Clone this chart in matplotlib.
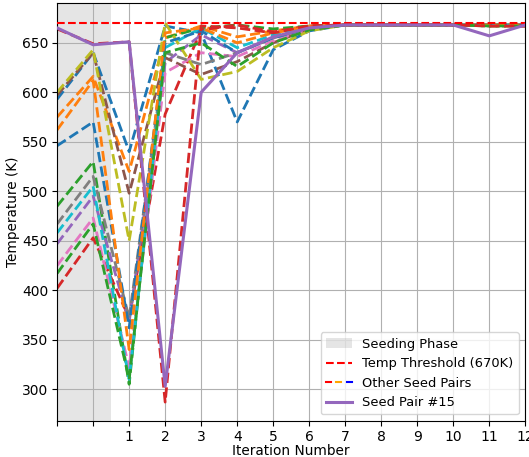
import matplotlib
matplotlib.use("Agg")
import matplotlib.pyplot as plt
from matplotlib.lines import Line2D
from matplotlib.patches import Patch
from matplotlib.legend_handler import HandlerBase

iterations = list(range(-1, 13))
tick_labels = ["", ""] + [str(i) for i in range(1, 13)]
threshold = 670

# 15 seed pairs, values per iteration (-1 .. 12)
seed_pairs = [
    [593, 640, 540, 667, 660, 570, 643, 662, 668, 668, 668, 668, 668, 668],  # 1
    [575, 616, 520, 655, 667, 656, 662, 667, 668, 668, 668, 668, 668, 668],  # 2
    [485, 530, 305, 655, 665, 668, 664, 667, 668, 668, 668, 668, 667, 667],  # 3
    [402, 453, 372, 578, 663, 668, 661, 667, 668, 668, 668, 668, 667, 667],  # 4
    [447, 495, 368, 630, 658, 640, 655, 665, 668, 668, 668, 668, 668, 668],  # 5
    [597, 640, 498, 635, 618, 631, 650, 664, 668, 668, 668, 668, 668, 668],  # 6
    [425, 473, 322, 620, 640, 636, 652, 664, 668, 668, 668, 668, 668, 668],  # 7
    [467, 515, 372, 640, 628, 640, 655, 665, 668, 668, 668, 668, 668, 668],  # 8
    [600, 643, 450, 670, 613, 621, 645, 662, 668, 668, 668, 668, 668, 668],  # 9
    [458, 505, 310, 645, 665, 645, 658, 666, 668, 668, 668, 668, 668, 668],  # 10
    [546, 570, 362, 650, 662, 640, 655, 665, 668, 668, 668, 668, 668, 668],  # 11
    [562, 612, 340, 660, 665, 650, 660, 666, 668, 668, 668, 668, 668, 668],  # 12
    [417, 467, 310, 640, 650, 626, 650, 663, 668, 668, 668, 668, 667, 667],  # 13
    [664, 649, 651, 287, 667, 665, 660, 667, 668, 668, 668, 668, 667, 667],  # 14
    [665, 648, 651, 303, 600, 640, 656, 665, 668, 668, 668, 668, 657, 668],  # 15
]
highlight_index = 14
colors = plt.rcParams["axes.prop_cycle"].by_key()["color"]


class MultiColorHandler(HandlerBase):
    def __init__(self, cols, **kw):
        super().__init__(**kw)
        self.cols = cols

    def create_artists(self, legend, orig_handle, xdescent, ydescent,
                       width, height, fontsize, trans):
        n = len(self.cols)
        seg = width / (2 * n - 1)
        arts = []
        for i, c in enumerate(self.cols):
            x0 = -xdescent + 2 * i * seg
            ln = Line2D([x0, x0 + seg], [height / 2 - ydescent] * 2,
                        color=c, lw=1.5, transform=trans)
            arts.append(ln)
        return arts


fig = plt.figure(figsize=(5.29, 4.57), dpi=100)
ax = fig.add_axes([0.108, 0.079, 0.885, 0.914])

ax.axvspan(-1, 0.5, color="gray", alpha=0.2, lw=0, zorder=0)
ax.axhline(threshold, color="red", ls="--", lw=1.5, zorder=3)

for i, vals in enumerate(seed_pairs):
    c = colors[i % len(colors)]
    if i == highlight_index:
        ax.plot(iterations, vals, color=c, lw=2.2, ls="-", zorder=4)
    else:
        ax.plot(iterations, vals, color=c, lw=2, ls="--", zorder=2)

ax.set_xlim(-1, 12)
ax.set_ylim(268, 690)
ax.set_xticks(iterations)
ax.set_xticklabels(tick_labels)
ax.set_yticks(range(300, 651, 50))
ax.tick_params(labelsize=10, pad=3)
ax.grid(True, color="#b0b0b0", lw=0.8, zorder=1)
ax.set_axisbelow(True)
ax.set_xlabel("Iteration Number", fontsize=9.8, labelpad=0)
ax.set_ylabel("Temperature (K)", fontsize=9.8, labelpad=1)

handles = [Patch(facecolor="gray", alpha=0.2),
           Line2D([0], [0], color="red", ls="--", lw=1.5),
           Line2D([0], [0]),
           Line2D([0], [0], color=colors[4], lw=2.2)]
labels = ["Seeding Phase", "Temp Threshold (670K)", "Other Seed Pairs", "Seed Pair #15"]
ax.legend(handles, labels, loc="lower right", fontsize=9.4,
          handler_map={handles[2]: MultiColorHandler(["red", "orange", "blue"])})

fig.savefig("out.png", dpi=100)
